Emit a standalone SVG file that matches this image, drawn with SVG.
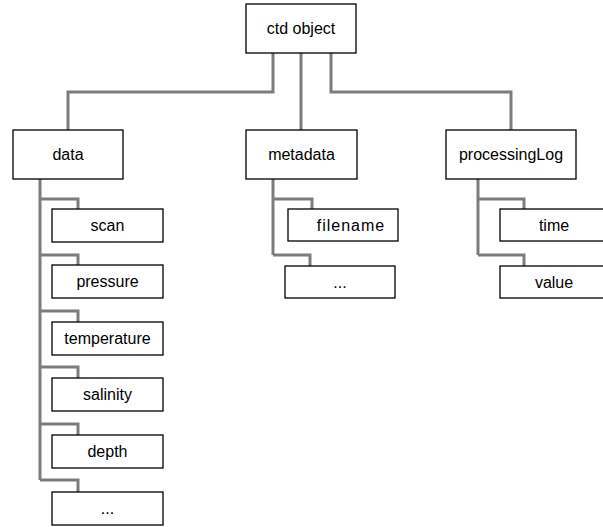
<svg xmlns="http://www.w3.org/2000/svg" width="603" height="527" viewBox="0 0 603 527">
<style>
.box{fill:#fff;stroke:#000;stroke-width:1.3}
.lbl{font-family:"Liberation Sans",Arial,sans-serif;font-size:16px;fill:#000;text-anchor:middle}
.con{fill:none;stroke:#7c7c7c;stroke-width:3}
</style>
<rect width="603" height="527" fill="#fff"/>
<g id="connectors">
<path class="con" d="M273 53V92H68V130"/>
<path class="con" d="M301 53V130"/>
<path class="con" d="M331 53V92H511V130"/>
<path class="con" d="M40 179V480"/>
<path class="con" d="M40 199H78V209"/>
<path class="con" d="M40 255H78V265"/>
<path class="con" d="M40 311H78V322"/>
<path class="con" d="M40 367H78V378"/>
<path class="con" d="M40 424H78V435"/>
<path class="con" d="M40 480H78V492"/>
<path class="con" d="M273 179V255"/>
<path class="con" d="M273 199H312V209"/>
<path class="con" d="M273 255H310V266"/>
<path class="con" d="M478 179V255"/>
<path class="con" d="M478 199H524V209"/>
<path class="con" d="M478 255H524V266"/>
</g>
<g id="ctd"><rect class="box" x="246" y="4" width="110" height="49"/><text class="lbl" x="301" y="34">ctd object</text></g>
<g id="data"><rect class="box" x="13" y="130" width="110" height="49"/><text class="lbl" x="68" y="160">data</text></g>
<g id="metadata"><rect class="box" x="246" y="130" width="111" height="49"/><text class="lbl" x="301.5" y="160">metadata</text></g>
<g id="processingLog"><rect class="box" x="446" y="130" width="130" height="49"/><text class="lbl" x="511" y="160">processingLog</text></g>
<g id="scan"><rect class="box" x="52" y="209" width="111" height="33"/><text class="lbl" x="107.5" y="231">scan</text></g>
<g id="pressure"><rect class="box" x="52" y="265" width="111" height="33"/><text class="lbl" x="107.5" y="287">pressure</text></g>
<g id="temperature"><rect class="box" x="52" y="322" width="111" height="33"/><text class="lbl" x="107.5" y="344">temperature</text></g>
<g id="salinity"><rect class="box" x="52" y="378" width="111" height="33"/><text class="lbl" x="107.5" y="400">salinity</text></g>
<g id="depth"><rect class="box" x="52" y="435" width="111" height="33"/><text class="lbl" x="107.5" y="457">depth</text></g>
<g id="data-more"><rect class="box" x="52" y="492" width="111" height="33"/><text class="lbl" x="107.5" y="514">...</text></g>
<g id="filename"><rect class="box" x="288" y="209" width="110" height="32"/><text class="lbl" x="351" y="231" letter-spacing="1">filename</text></g>
<g id="metadata-more"><rect class="box" x="285" y="266" width="110" height="32"/><text class="lbl" x="340" y="288">...</text></g>
<g id="time"><rect class="box" x="500" y="209" width="110" height="32"/><text class="lbl" x="554" y="231">time</text></g>
<g id="value"><rect class="box" x="500" y="266" width="110" height="32"/><text class="lbl" x="554" y="288">value</text></g>
</svg>
